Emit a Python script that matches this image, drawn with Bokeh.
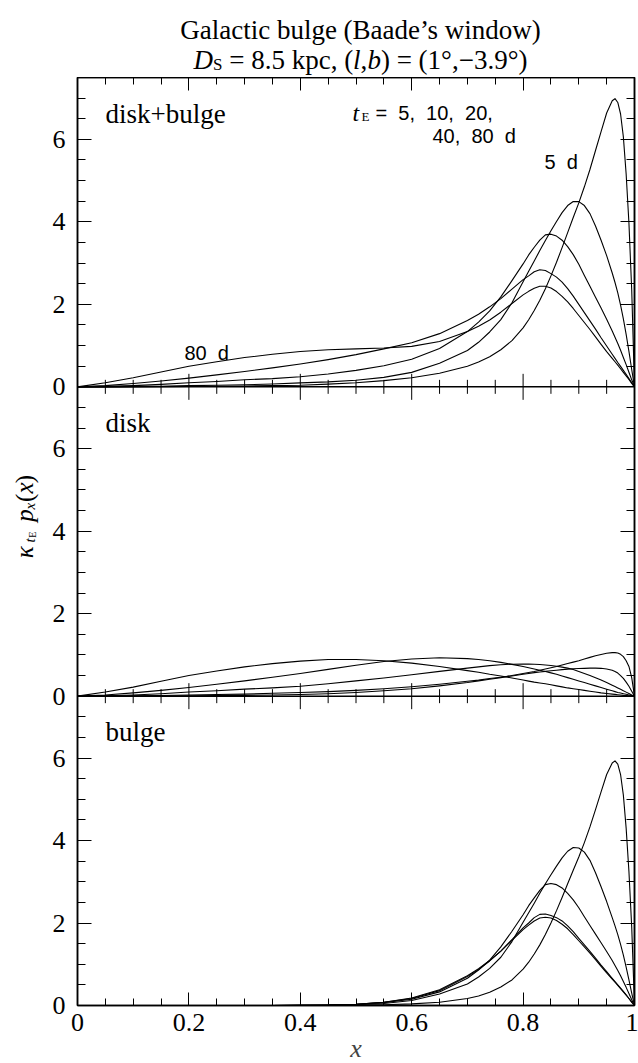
from math import pi
from bokeh.plotting import figure
from bokeh.models import (Range1d, FixedTicker, LinearAxis, Label, Span, ColumnDataSource,
                          NumeralTickFormatter, CustomJSTickFormatter)
from bokeh.transform import dodge
from bokeh.layouts import column, row
from bokeh.embed import file_html
from bokeh.resources import INLINE

# ---------------- data ----------------
x_pts = [0.0, 0.05, 0.1, 0.15, 0.2, 0.25, 0.3, 0.35, 0.4, 0.45, 0.5, 0.55, 0.6, 0.65, 0.7,
         0.72, 0.74, 0.76, 0.78, 0.8,
         0.81, 0.82, 0.83, 0.84, 0.85, 0.86, 0.87, 0.88, 0.89, 0.9,
         0.91, 0.92, 0.93, 0.94, 0.95, 0.96, 0.965, 0.97, 0.975, 0.98, 0.985, 0.99, 0.995, 1.0]

te_days = [5, 10, 20, 40, 80]

# disk + bulge
tot_5d = [0, 0, 0, 0.005, 0.01, 0.015, 0.02, 0.03, 0.04, 0.065, 0.1, 0.15, 0.22, 0.33, 0.5,
          0.6, 0.73, 0.9, 1.12, 1.43,
          1.625, 1.85, 2.1, 2.38, 2.69, 3.02, 3.375, 3.74, 4.105, 4.46,
          4.85, 5.27, 5.73, 6.19, 6.64, 6.935, 6.986, 6.895, 6.615, 6.06, 5.16, 3.97, 2.35, 0]
tot_10d = [0, 0, 0.01, 0.015, 0.03, 0.04, 0.05, 0.07, 0.095, 0.12, 0.16, 0.23, 0.35, 0.57, 0.88,
           1.08, 1.33, 1.63, 2.04, 2.55,
           2.8, 3.05, 3.305, 3.55, 3.785, 4.01, 4.223, 4.395, 4.493, 4.49,
           4.395, 4.2, 3.9, 3.555, 3.18, 2.76, 2.53, 2.28, 1.98, 1.65, 1.27, 0.86, 0.42, 0]
tot_20d = [0, 0.01, 0.03, 0.06, 0.1, 0.13, 0.17, 0.2, 0.245, 0.31, 0.4, 0.51, 0.67, 0.93, 1.34,
           1.57, 1.84, 2.18, 2.575, 2.98,
           3.198, 3.385, 3.556, 3.685, 3.702, 3.655, 3.555, 3.4, 3.205, 2.97,
           2.7, 2.44, 2.175, 1.91, 1.64, 1.355, 1.203, 1.05, 0.885, 0.71, 0.538, 0.355, 0.17, 0]
tot_40d = [0, 0.03, 0.08, 0.14, 0.21, 0.29, 0.37, 0.46, 0.555, 0.66, 0.78, 0.92, 1.07, 1.29, 1.61,
           1.76, 1.94, 2.14, 2.37, 2.6,
           2.69, 2.79, 2.84, 2.82, 2.745, 2.66, 2.54, 2.38, 2.2, 2.0,
           1.8, 1.6, 1.4, 1.19, 0.99, 0.79, 0.69, 0.59, 0.495, 0.4, 0.305, 0.2, 0.095, 0]
tot_80d = [0, 0.1, 0.22, 0.36, 0.5, 0.61, 0.71, 0.79, 0.855, 0.9, 0.92, 0.94, 0.98, 1.1, 1.34,
           1.47, 1.62, 1.81, 2.02, 2.23,
           2.315, 2.39, 2.44, 2.44, 2.395, 2.31, 2.195, 2.06, 1.9, 1.73,
           1.56, 1.39, 1.21, 1.03, 0.855, 0.69, 0.608, 0.525, 0.438, 0.35, 0.265, 0.18, 0.085, 0]

# disk
disk_5d = [0, 0, 0, 0.005, 0.01, 0.015, 0.02, 0.03, 0.04, 0.06, 0.09, 0.13, 0.18, 0.25, 0.33,
           0.37, 0.41, 0.45, 0.5, 0.55,
           0.575, 0.6, 0.63, 0.66, 0.69, 0.72, 0.755, 0.79, 0.825, 0.86,
           0.9, 0.94, 0.98, 1.01, 1.04, 1.055, 1.056, 1.045, 1.015, 0.96, 0.86, 0.72, 0.45, 0]
disk_10d = [0, 0, 0.01, 0.015, 0.03, 0.04, 0.05, 0.07, 0.09, 0.11, 0.14, 0.18, 0.23, 0.29, 0.36,
            0.39, 0.43, 0.46, 0.49, 0.53,
            0.55, 0.57, 0.585, 0.6, 0.615, 0.63, 0.643, 0.655, 0.663, 0.67,
            0.675, 0.68, 0.68, 0.675, 0.66, 0.63, 0.6, 0.56, 0.5, 0.43, 0.34, 0.24, 0.12, 0]
disk_20d = [0, 0.01, 0.03, 0.06, 0.1, 0.13, 0.17, 0.2, 0.24, 0.3, 0.37, 0.44, 0.52, 0.6, 0.68,
            0.71, 0.74, 0.76, 0.775, 0.78,
            0.778, 0.775, 0.766, 0.755, 0.742, 0.725, 0.705, 0.68, 0.645, 0.6,
            0.55, 0.5, 0.445, 0.39, 0.33, 0.265, 0.233, 0.2, 0.165, 0.13, 0.098, 0.065, 0.03, 0]
disk_40d = [0, 0.03, 0.08, 0.14, 0.21, 0.29, 0.37, 0.46, 0.55, 0.65, 0.75, 0.84, 0.9, 0.93, 0.91,
            0.89, 0.86, 0.82, 0.77, 0.72,
            0.69, 0.66, 0.63, 0.6, 0.565, 0.53, 0.49, 0.45, 0.41, 0.37,
            0.33, 0.29, 0.25, 0.21, 0.17, 0.13, 0.11, 0.09, 0.075, 0.06, 0.045, 0.03, 0.015, 0]
disk_80d = [0, 0.1, 0.22, 0.36, 0.5, 0.61, 0.71, 0.79, 0.85, 0.89, 0.89, 0.86, 0.8, 0.72, 0.62,
            0.58, 0.53, 0.49, 0.44, 0.39,
            0.365, 0.34, 0.32, 0.3, 0.275, 0.25, 0.225, 0.2, 0.18, 0.16,
            0.14, 0.12, 0.1, 0.08, 0.065, 0.05, 0.043, 0.035, 0.028, 0.02, 0.015, 0.01, 0.005, 0]

# bulge
bulge_5d = [0, 0, 0, 0, 0, 0, 0, 0, 0, 0.005, 0.01, 0.02, 0.04, 0.08, 0.17,
            0.23, 0.32, 0.45, 0.62, 0.88,
            1.05, 1.25, 1.47, 1.72, 2.0, 2.3, 2.62, 2.95, 3.28, 3.6,
            3.95, 4.33, 4.75, 5.18, 5.6, 5.88, 5.93, 5.85, 5.6, 5.1, 4.3, 3.25, 1.9, 0]
bulge_10d = [0, 0, 0, 0, 0, 0, 0, 0, 0.005, 0.01, 0.02, 0.05, 0.12, 0.28, 0.52,
             0.69, 0.9, 1.17, 1.55, 2.02,
             2.25, 2.48, 2.72, 2.95, 3.17, 3.38, 3.58, 3.74, 3.83, 3.82,
             3.72, 3.52, 3.22, 2.88, 2.52, 2.13, 1.93, 1.72, 1.48, 1.22, 0.93, 0.62, 0.3, 0]
bulge_20d = [0, 0, 0, 0, 0, 0, 0, 0, 0.005, 0.01, 0.03, 0.07, 0.15, 0.33, 0.66,
             0.86, 1.1, 1.42, 1.8, 2.2,
             2.42, 2.61, 2.79, 2.93, 2.96, 2.93, 2.85, 2.72, 2.56, 2.37,
             2.15, 1.94, 1.73, 1.52, 1.31, 1.09, 0.97, 0.85, 0.72, 0.58, 0.44, 0.29, 0.14, 0]
bulge_40d = [0, 0, 0, 0, 0, 0, 0, 0, 0.005, 0.01, 0.03, 0.08, 0.17, 0.36, 0.7,
             0.87, 1.08, 1.32, 1.6, 1.88,
             2.0, 2.13, 2.21, 2.22, 2.18, 2.13, 2.05, 1.93, 1.79, 1.63,
             1.47, 1.31, 1.15, 0.98, 0.82, 0.66, 0.58, 0.5, 0.42, 0.34, 0.26, 0.17, 0.08, 0]
bulge_80d = [0, 0, 0, 0, 0, 0, 0, 0, 0.005, 0.01, 0.03, 0.08, 0.18, 0.38, 0.72,
             0.89, 1.09, 1.32, 1.58, 1.84,
             1.95, 2.05, 2.12, 2.14, 2.12, 2.06, 1.97, 1.86, 1.72, 1.57,
             1.42, 1.27, 1.11, 0.95, 0.79, 0.64, 0.565, 0.49, 0.41, 0.33, 0.25, 0.17, 0.08, 0]

panel_names = ["disk+bulge", "disk", "bulge"]
panel_series = [
    ["tot_5d", "tot_10d", "tot_20d", "tot_40d", "tot_80d"],
    ["disk_5d", "disk_10d", "disk_20d", "disk_40d", "disk_80d"],
    ["bulge_5d", "bulge_10d", "bulge_20d", "bulge_40d", "bulge_80d"],
]

x_major = [0, 0.2, 0.4, 0.6, 0.8, 1]
x_minor = [round(0.05 * i, 2) for i in range(21)]
y_major = [0, 2, 4, 6]
y_minor = [0.5 * i for i in range(1, 15)]

# ---------------- layout constants ----------------
SERIF = "Liberation Serif"
SANS = "Liberation Sans"
PAGE_W = 638
HEAD_H = 77           # title strip
YLAB_W = 45           # strip holding the y label
LEFT = 77             # page x of frame left
FRAME_W = 557
FRAME_H = 928
BOTTOM = 58
PANEL = 7.5           # y extent of one panel
NPANEL = 3
YTOP = PANEL * NPANEL
PX_PER_Y = FRAME_H / YTOP
offsets = [2 * PANEL, PANEL, 0.0]   # top, middle, bottom panel


def mx(px):
    return (px - LEFT) / FRAME_W


def my(py):
    return YTOP - (py - HEAD_H) / PX_PER_Y


def text(p, x, y, s, font=SERIF, size=26, style="normal", align="left", angle=0.0):
    p.add_layout(Label(x=x, y=y, text=s, text_font=font, text_font_size=f"{size}px",
                       text_font_style=style, text_align=align, text_baseline="alphabetic",
                       text_color="black", angle=angle))


def tick_axis(ax, major, minor, t_major, t_minor, show_labels):
    ax.ticker = FixedTicker(ticks=major, minor_ticks=minor)
    ax.major_tick_in = t_major
    ax.major_tick_out = 0
    ax.minor_tick_in = t_minor
    ax.minor_tick_out = 0
    ax.axis_line_color = "black"
    ax.axis_line_width = 1.5
    ax.major_tick_line_color = "black"
    ax.minor_tick_line_color = "black"
    if show_labels:
        ax.major_label_text_font = SERIF
        ax.major_label_text_font_size = "26px"
        ax.major_label_text_color = "black"
    else:
        ax.major_label_text_color = None
        ax.major_label_standoff = 0


# ---------------- main figure (three stacked panels) ----------------
src = ColumnDataSource(dict(
    x=x_pts,
    tot_5d=tot_5d, tot_10d=tot_10d, tot_20d=tot_20d, tot_40d=tot_40d, tot_80d=tot_80d,
    disk_5d=disk_5d, disk_10d=disk_10d, disk_20d=disk_20d, disk_40d=disk_40d, disk_80d=disk_80d,
    bulge_5d=bulge_5d, bulge_10d=bulge_10d, bulge_20d=bulge_20d, bulge_40d=bulge_40d,
    bulge_80d=bulge_80d,
))

p = figure(frame_width=FRAME_W, frame_height=FRAME_H,
           x_range=Range1d(0, 1), y_range=Range1d(0, YTOP),
           output_backend="svg", toolbar_location=None,
           min_border_left=LEFT - YLAB_W, min_border_right=4,
           min_border_top=0, min_border_bottom=BOTTOM)
p.grid.visible = False
p.outline_line_color = "black"
p.outline_line_width = 1.5
p.background_fill_color = "white"
p.border_fill_color = "white"

y_ticks_all = [off + t for off in offsets for t in y_major]
y_minor_all = [off + t for off in offsets for t in y_minor]

bx = p.below[0]
tick_axis(bx, x_major, x_minor, 13, 7, True)
bx.formatter = NumeralTickFormatter(format="0.[0]")
bx.major_label_standoff = 8
bx.axis_label = "x"
bx.axis_label_text_font = SERIF
bx.axis_label_text_font_style = "italic"
bx.axis_label_text_font_size = "26px"
bx.axis_label_standoff = 0

ly = p.left[0]
tick_axis(ly, y_ticks_all, y_minor_all, 14, 8, True)
ly.major_label_standoff = 12
ly.formatter = CustomJSTickFormatter(
    code=f"return String(Math.round(tick - {PANEL}*Math.floor((tick + 0.01)/{PANEL})));")

top_ax = LinearAxis()
tick_axis(top_ax, x_major, x_minor, 13, 7, False)
p.add_layout(top_ax, "above")
right_ax = LinearAxis()
tick_axis(right_ax, y_ticks_all, y_minor_all, 14, 8, False)
p.add_layout(right_ax, "right")

# shared borders between panels, with ticks on both sides
x_minor_only = [t for t in x_minor if all(abs(t - m) > 1e-9 for m in x_major)]
for k in range(1, NPANEL):
    yb = k * PANEL
    p.add_layout(Span(location=yb, dimension="width", line_color="black", line_width=1.5))
    lm = 13 / PX_PER_Y
    ln = 7 / PX_PER_Y
    p.segment(x0=x_major, x1=x_major, y0=[yb - lm] * len(x_major), y1=[yb + lm] * len(x_major),
              line_color="black", line_width=1)
    p.segment(x0=x_minor_only, x1=x_minor_only, y0=[yb - ln] * len(x_minor_only),
              y1=[yb + ln] * len(x_minor_only), line_color="black", line_width=1)

for off, cols, name in zip(offsets, panel_series, panel_names):
    for c in cols:
        p.line(x="x", y=dodge(c, off, range=p.y_range), source=src,
               line_color="black", line_width=1.1, line_join="round")
    text(p, mx(105), off + 6.62, name, size=27)

# annotations in the top panel
text(p, mx(352), my(112), "t", size=24, style="italic")
text(p, mx(361), my(116), "E", size=13)
text(p, mx(375), my(112), "=\u00a0\u00a05,\u00a0\u00a010,\u00a0\u00a020,", font=SANS, size=20)
text(p, mx(432), my(135), "40,\u00a0\u00a080\u00a0\u00a0d", font=SANS, size=20)
text(p, mx(544), my(161), "5\u00a0\u00a0d", font=SANS, size=20)
text(p, mx(184), my(352), "80\u00a0\u00a0d", font=SANS, size=20)

# ---------------- title strip ----------------
head = figure(width=PAGE_W, height=HEAD_H, x_range=Range1d(0, PAGE_W), y_range=Range1d(HEAD_H, 0),
              output_backend="svg", toolbar_location=None, min_border=0,
              x_axis_location=None, y_axis_location=None)
head.grid.visible = False
head.outline_line_color = None
head.background_fill_color = "white"
head.border_fill_color = "white"

text(head, 360, 29, "Galactic bulge (Baade\u2019s window)", size=27, align="center")
text(head, 193, 59, "D", size=27, style="italic")
text(head, 212.5, 64, "S", size=17)
text(head, 222, 59, "\u00a0=\u00a08.5\u00a0kpc,\u00a0(", size=27)
text(head, 352.6, 59, "l", size=27, style="italic")
text(head, 360.1, 59, ",", size=27)
text(head, 366.9, 59, "b", size=27, style="italic")
text(head, 380.4, 59, ")\u00a0=\u00a0(1\u00b0,\u22123.9\u00b0)", size=27)

# ---------------- y-label strip ----------------
MAIN_H = FRAME_H + BOTTOM
ylab = figure(width=YLAB_W, height=MAIN_H, x_range=Range1d(0, YLAB_W),
              y_range=Range1d(HEAD_H + MAIN_H, HEAD_H),
              output_backend="svg", toolbar_location=None, min_border=0,
              x_axis_location=None, y_axis_location=None)
ylab.grid.visible = False
ylab.outline_line_color = None
ylab.background_fill_color = "white"
ylab.border_fill_color = "white"

A = pi / 2
text(ylab, 24, 589, "\u03ba", size=25, style="italic", angle=A)
text(ylab, 29, 572, "t", size=15, style="italic", angle=A)
text(ylab, 32, 567, "E", size=10, angle=A)
text(ylab, 24, 550, "p", size=25, style="italic", angle=A)
text(ylab, 29, 537, "x", size=15, style="italic", angle=A)
text(ylab, 24, 529, "(", size=25, angle=A)
text(ylab, 24, 520, "x", size=25, style="italic", angle=A)
text(ylab, 24, 509, ")", size=25, angle=A)

layout = column(head, row(ylab, p, spacing=0), spacing=0)
open("out.html", "w").write(file_html(layout, INLINE, "Galactic bulge"))
